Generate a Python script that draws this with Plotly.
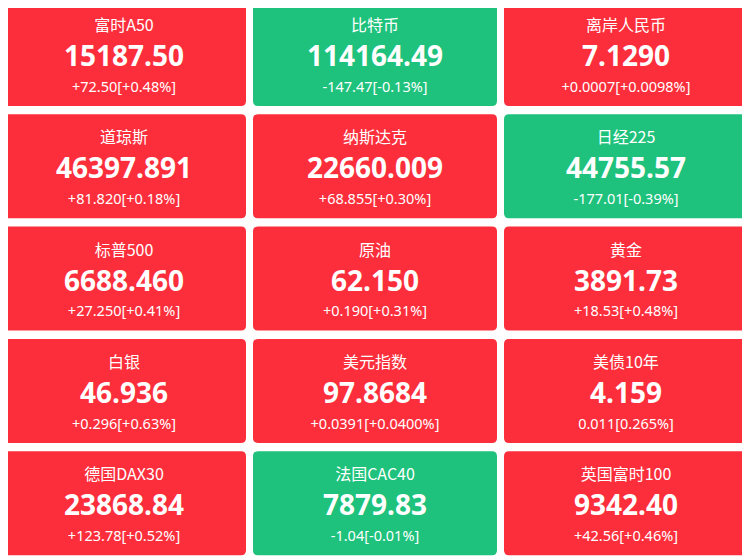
import plotly.graph_objects as go

names = ["富时A50", "比特币", "离岸人民币", "道琼斯", "纳斯达克", "日经225",
         "标普500", "原油", "黄金", "白银", "美元指数", "美债10年",
         "德国DAX30", "法国CAC40", "英国富时100"]
prices = ["15187.50", "114164.49", "7.1290", "46397.891", "22660.009", "44755.57",
          "6688.460", "62.150", "3891.73", "46.936", "97.8684", "4.159",
          "23868.84", "7879.83", "9342.40"]
changes = ["+72.50[+0.48%]", "-147.47[-0.13%]", "+0.0007[+0.0098%]",
           "+81.820[+0.18%]", "+68.855[+0.30%]", "-177.01[-0.39%]",
           "+27.250[+0.41%]", "+0.190[+0.31%]", "+18.53[+0.48%]",
           "+0.296[+0.63%]", "+0.0391[+0.0400%]", "0.011[0.265%]",
           "+123.78[+0.52%]", "-1.04[-0.01%]", "+42.56[+0.46%]"]

RED = "#fc2e3c"
GREEN = "#1ec27c"
W, H = 750, 558
OFF = 8  # page body margin shifts the plot
tw, th, r = 244, 104, 5


def rounded(x0, y0, x1, y1, r):
    return (f"M{x0+r},{y0} L{x1-r},{y0} Q{x1},{y0} {x1},{y0+r} L{x1},{y1-r} "
            f"Q{x1},{y1} {x1-r},{y1} L{x0+r},{y1} Q{x0},{y1} {x0},{y1-r} "
            f"L{x0},{y0+r} Q{x0},{y0} {x0+r},{y0} Z")


shapes = []
cx, cy = [], []
for i, ch in enumerate(changes):
    col, row = i % 3, i // 3
    x0 = 2 + col * 251
    y0 = 2 + row * 112.3
    color = GREEN if ch.startswith("-") else RED
    shapes.append(dict(type="path", path=rounded(x0, y0, x0 + tw, y0 + th, r),
                       fillcolor=color, line=dict(width=0), layer="below"))
    cx.append(x0 + tw / 2)
    cy.append(y0)

fig = go.Figure()
fig.add_trace(go.Scatter(x=cx, y=[y + 25 for y in cy], mode="text", text=names,
                         textfont=dict(family="Noto Sans CJK SC", size=16, color="white")))
fig.add_trace(go.Scatter(x=cx, y=[y + 57 for y in cy], mode="text",
                         text=[f"<b>{p}</b>" for p in prices],
                         textfont=dict(family="Noto Sans", size=28, color="white")))
fig.add_trace(go.Scatter(x=cx, y=[y + 86 for y in cy], mode="text", text=changes,
                         textfont=dict(family="Noto Sans", size=14.5, color="white")))

fig.update_layout(width=W, height=H, margin=dict(l=0, r=0, t=0, b=0),
                  plot_bgcolor="white", paper_bgcolor="white", showlegend=False,
                  shapes=shapes,
                  xaxis=dict(range=[OFF, W + OFF], visible=False, fixedrange=True),
                  yaxis=dict(range=[H + OFF, OFF], visible=False, fixedrange=True))
fig.write_html("out.html")
